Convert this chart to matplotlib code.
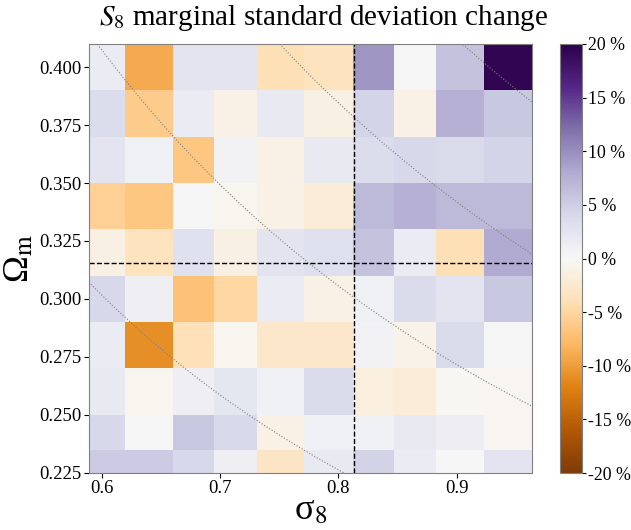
import numpy as np
import matplotlib
matplotlib.use("Agg")
import matplotlib.pyplot as plt

plt.rcParams['font.family'] = ['Liberation Serif', 'DejaVu Serif']
plt.rcParams['mathtext.fontset'] = 'stix'

# bin edges of the grid (sigma_8 along x, Omega_m along y, rows listed top to bottom)
sigma8_edges = [0.5895, 0.6197, 0.660, 0.695, 0.7311, 0.771, 0.8127, 0.8474, 0.8826, 0.9232, 0.9635]
omegam_edges = [0.41, 0.39, 0.37, 0.35, 0.33, 0.31, 0.29, 0.27, 0.25, 0.235, 0.225]

# change of the S8 marginal standard deviation, in percent (top row first)
change = [
    [1.5, -9.0, 2.5, 2.5, -4.0, -3.5, 9.5, 0.3, 6.0, 19.5],
    [3.5, -6.0, 1.5, -1.0, 2.0, -1.2, 4.5, -1.0, 7.5, 5.5],
    [2.5, 1.0, -6.5, 0.7, -1.0, 2.0, 3.5, 4.2, 3.8, 4.5],
    [-5.5, -6.5, 0.0, -0.5, -1.0, -2.0, 6.8, 7.5, 6.8, 6.8],
    [-1.2, -3.5, 3.0, -1.2, 2.5, 3.2, 6.0, 1.5, -4.0, 8.0],
    [4.2, 1.2, -7.0, -5.0, 1.5, -1.0, 1.0, 3.6, 2.5, 5.5],
    [1.5, -11.0, -3.8, -0.5, -2.7, -2.7, 0.7, -0.8, 3.8, 0.3],
    [2.0, -0.6, 1.2, 2.3, 0.8, 3.8, -1.5, -2.0, -0.2, -0.4],
    [4.2, 0.3, 5.5, 4.0, -1.0, 1.0, 0.8, 2.0, 1.3, -0.4],
    [5.3, 5.3, 4.2, 1.2, -3.0, 2.0, 4.6, 1.5, 0.1, 2.5],
]

# fiducial cosmology
sigma8_fid = 0.813
omegam_fid = 0.3153

# levels of sigma_8 * Omega_m for the dotted degeneracy curves
degeneracy_levels = [0.181, 0.2445, 0.3077, 0.371]

yticks = [0.225, 0.25, 0.275, 0.3, 0.325, 0.35, 0.375, 0.4]
cbar_ticks = [-20, -15, -10, -5, 0, 5, 10, 15, 20]

fig = plt.figure(figsize=(6.31, 5.30), dpi=100)
W, H = 631, 530
ax = fig.add_axes([89.3 / W, (H - 472.7) / H, (531.7 - 89.3) / W, (472.7 - 44) / H])
cax = fig.add_axes([560 / W, (H - 473) / H, 22 / W, 429 / H])

mesh = ax.pcolormesh(sigma8_edges, omegam_edges, np.array(change),
                     cmap='PuOr', vmin=-20, vmax=20)

om = np.linspace(0.2, 0.43, 300)
for lev in degeneracy_levels:
    ax.plot(lev / om, om, linestyle=':', color='gray', linewidth=0.8)

ax.axvline(sigma8_fid, color='black', linestyle='--', linewidth=1)
ax.axhline(omegam_fid, color='black', linestyle='--', linewidth=1)

ax.set_xlim(sigma8_edges[0], sigma8_edges[-1])
ax.set_ylim(omegam_edges[-1], omegam_edges[0])
ax.set_xticks([0.6, 0.7, 0.8, 0.9])
ax.set_yticks(yticks)
ax.set_yticklabels(['%.3f' % t for t in yticks])
ax.tick_params(labelsize=13.5, colors='black', pad=2)
for s in ax.spines.values():
    s.set_color('gray')

ax.set_xlabel('σ$_8$', fontsize=26, labelpad=-2)
ax.set_ylabel('Ω$_{\\rm m}$', fontsize=26, labelpad=2)
fig.text(323.5 / W, (H - 33) / H, '$S_8$ marginal standard deviation change',
         fontsize=21, ha='center', va='bottom')

cb = fig.colorbar(mesh, cax=cax)
cb.set_ticks(cbar_ticks)
cb.set_ticklabels(['%d %%' % t for t in cbar_ticks])
cb.ax.tick_params(labelsize=12.8, pad=1, length=3)
cb.outline.set_edgecolor('gray')

fig.savefig('out.png', dpi=100)
